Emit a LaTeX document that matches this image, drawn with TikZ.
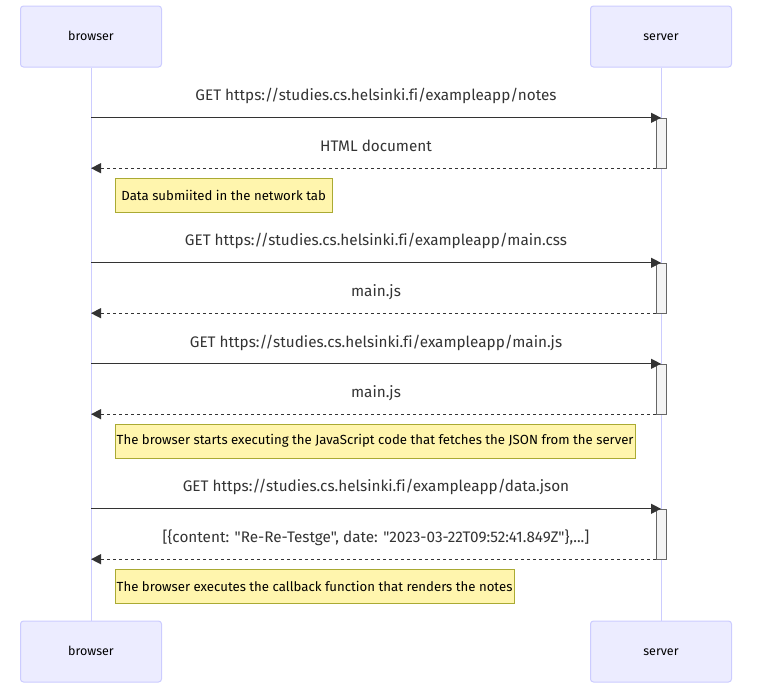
\documentclass[tikz,border=0pt]{standalone}
\usepackage{fontspec}
\setmainfont{Fira Sans}[Ligatures={TeXOff,CommonOff}]
\definecolor{actorFill}{HTML}{ECECFF}
\definecolor{actorEdge}{HTML}{CCCCFF}
\definecolor{lifeInk}{HTML}{333333}
\definecolor{noteFill}{HTML}{FFF5AD}
\definecolor{noteEdge}{HTML}{AAAA33}
\definecolor{barFill}{HTML}{F4F4F4}
\definecolor{barEdge}{HTML}{666666}
\usetikzlibrary{arrows.meta}

\begin{document}
\begin{tikzpicture}[
        x=1pt, y=-1pt,
        actorbox/.style={
          rounded corners=3pt,
          draw=actorEdge,
          fill=actorFill,
          text=black,
          minimum width=141pt,
          minimum height=61pt,
          text height=0.85em,
          text depth=0pt,
          font=\fontsize{12.5}{14}\selectfont,
          line width=1pt,
        },
        lifeline/.style={draw=actorEdge, line width=1pt},
        msglabel/.style={anchor=base, text=lifeInk, font=\fontsize{15.3}{18}\selectfont},
        actbar/.style={draw=barEdge, fill=barFill, minimum width=10pt, minimum height=50pt, inner sep=0pt},
        callarr/.style={-{Triangle[length=10pt, width=10pt]}, lifeInk, line width=1.3pt},
        replyarr/.style={callarr, dash pattern=on 3pt off 3pt},
        notebox/.style={
          anchor=north west,
          draw=noteEdge,
          fill=noteFill,
          text=black,
          minimum width=217pt,
          minimum height=34pt,
          inner xsep=1.5pt,
          font=\fontsize{13.2}{15}\selectfont,
        },
      ]
        \useasboundingbox (0,0) rectangle (764,691);
        \node[actorbox] (browser) at (91,36.5) {browser};
        \node[actorbox] (server) at (661,36.5) {server};
        \node[actorbox] (browserEnd) at (91,651.5) {browser};
        \node[actorbox] (serverEnd) at (661,651.5) {server};

        \draw[lifeline] (browser) -- (browserEnd);
        \draw[lifeline] (server) -- (serverEnd);

        \node[actbar] (notes) at (661,143) {};
        \node[actbar] (css) at (661,288) {};
        \node[actbar] (js) at (661,389) {};
        \node[actbar] (json) at (661,534) {};

        \node[msglabel] (getNotes) at (376,100) {GET https://studies.cs.helsinki.fi/exampleapp/notes};
        \node[msglabel] (html) at (376,151) {HTML document};
        \node[notebox] (noteTab) at (115,178) {Data submiited in the network tab};
        \node[msglabel] (getCss) at (376,245) {GET https://studies.cs.helsinki.fi/exampleapp/main.css};
        \node[msglabel] (cssBack) at (376,296) {main.js};
        \node[msglabel] (getJs) at (376,347) {GET https://studies.cs.helsinki.fi/exampleapp/main.js};
        \node[msglabel] (jsBack) at (376,397) {main.js};
        \node[notebox] (noteRun) at (115,424) {The browser starts executing the JavaScript code that fetches the JSON from the server};
        \node[msglabel] (getJson) at (376,491) {GET https://studies.cs.helsinki.fi/exampleapp/data.json};
        \node[msglabel] (jsonBack) at (376,542) {[\{content: "Re-Re-Testge", date: "2023-03-22T09:52:41.849Z"\},...]};
        \node[notebox] (noteDraw) at (115,569) {The browser executes the callback function that renders the notes};

        \draw[callarr] (browser |- notes.north) -- (notes.north);
        \draw[replyarr] (notes.south west) -- (browser |- notes.south);
        \draw[callarr] (browser |- css.north) -- (css.north);
        \draw[replyarr] (css.south west) -- (browser |- css.south);
        \draw[callarr] (browser |- js.north) -- (js.north);
        \draw[replyarr] (js.south west) -- (browser |- js.south);
        \draw[callarr] (browser |- json.north) -- (json.north);
        \draw[replyarr] (json.south west) -- (browser |- json.south);
      \end{tikzpicture}
\end{document}
